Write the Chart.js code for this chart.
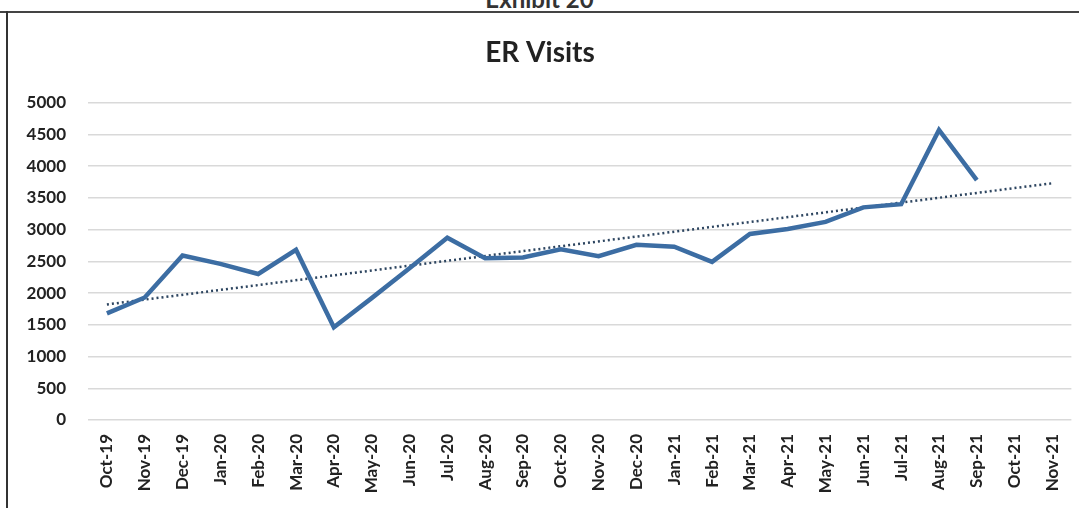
<!DOCTYPE html>
<html>
<head>
<meta charset="utf-8">
<script src="https://cdn.jsdelivr.net/npm/chart.js@4"></script>
<style>
  body { margin: 0; background: #fff; width: 1079px; height: 508px; overflow: hidden; position: relative; }
  #exhibit { position: absolute; left: 0; width: 1079px; top: -16px; text-align: center;
    font: bold 24px Lato, sans-serif; color: #333; }
  #frameTop { position: absolute; left: 0; top: 11px; width: 1079px; height: 2px; background: #444; }
  #frameLeft { position: absolute; left: 6px; top: 11px; width: 2px; height: 497px; background: #333; }
  #wrap { position: absolute; left: 8px; top: 14px; width: 1071px; height: 494px; }
</style>
</head>
<body>
<div id="exhibit">Exhibit 20</div>
<div id="frameTop"></div>
<div id="frameLeft"></div>
<div id="wrap"><canvas id="erChart"></canvas></div>
<script>
// months on the x axis
const months = ["Oct-19","Nov-19","Dec-19","Jan-20","Feb-20","Mar-20","Apr-20","May-20","Jun-20","Jul-20",
  "Aug-20","Sep-20","Oct-20","Nov-20","Dec-20","Jan-21","Feb-21","Mar-21","Apr-21","May-21",
  "Jun-21","Jul-21","Aug-21","Sep-21","Oct-21","Nov-21"];
// ER visits per month (no data for Oct-21, Nov-21)
const erVisits = [1680,1930,2590,2460,2300,2680,1460,1920,2390,2870,
  2550,2560,2690,2580,2760,2730,2490,2930,3010,3120,
  3350,3400,4570,3780,null,null];
// dotted trend line, only its two ends
const trend = [1820,null,null,null,null,null,null,null,null,null,
  null,null,null,null,null,null,null,null,null,null,
  null,null,null,null,null,3730];

const tickFont = { family: "Lato", size: 17, weight: "bold" };

const ctx = document.querySelector("#erChart");
const erChart = new Chart(ctx, {
  type: "line",
  data: {
    labels: months,
    datasets: [
      {
        label: "ER Visits",
        data: erVisits,
        borderColor: "#3c6da3",
        borderWidth: 4.5,
        pointRadius: 0,
        tension: 0,
      },
      {
        label: "Trend",
        data: trend,
        borderColor: "#2d4560",
        borderWidth: 2.5,
        borderDash: [2, 3],
        pointRadius: 0,
        spanGaps: true,
      },
    ],
  },
  options: {
    responsive: true,
    maintainAspectRatio: false,
    animation: false,
    layout: { padding: { top: 0, right: 7, bottom: 0, left: 0 } },
    plugins: {
      legend: { display: false },
      tooltip: { enabled: false },
      title: {
        display: true,
        text: "ER Visits",
        color: "#222",
        font: { family: "Lato", size: 28, weight: "bold" },
        padding: { top: 22, bottom: 33 },
      },
    },
    scales: {
      x: {
        offset: true,
        grid: { display: false },
        border: { display: false },
        ticks: {
          color: "#222",
          font: tickFont,
          maxRotation: 90,
          minRotation: 90,
          autoSkip: false,
          padding: 6,
        },
        afterFit: (scale) => { scale.height = 88; },
      },
      y: {
        min: 0,
        max: 5000,
        border: { display: false },
        grid: { color: "#d9d9d9", lineWidth: 1.5, drawTicks: false },
        ticks: {
          stepSize: 500,
          color: "#222",
          font: tickFont,
          padding: 22,
          callback: (value) => String(value),
        },
        afterFit: (scale) => { scale.width = 80; },
      },
    },
  },
});
</script>
</body>
</html>
